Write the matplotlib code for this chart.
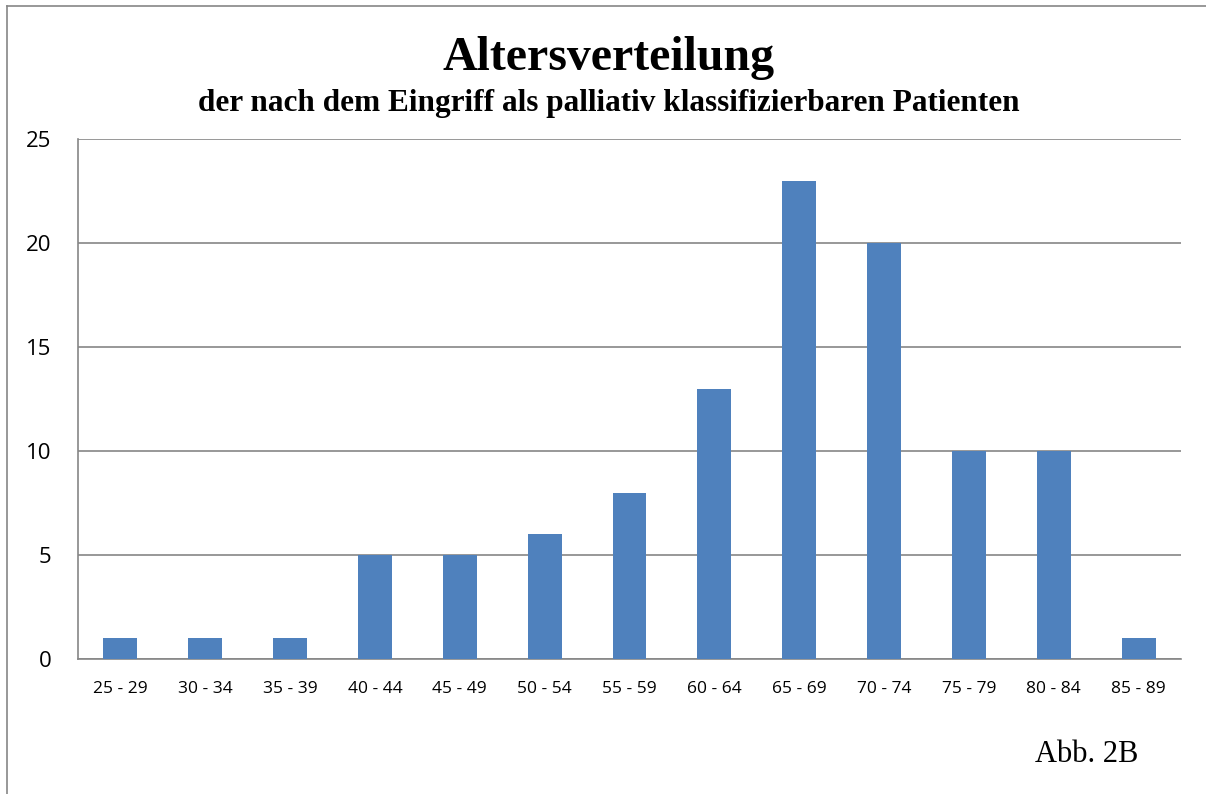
import matplotlib
matplotlib.use("Agg")
import matplotlib.pyplot as plt
from matplotlib.lines import Line2D

categories = ["25 - 29", "30 - 34", "35 - 39", "40 - 44", "45 - 49", "50 - 54", "55 - 59",
              "60 - 64", "65 - 69", "70 - 74", "75 - 79", "80 - 84", "85 - 89"]
counts = [1, 1, 1, 5, 5, 6, 8, 13, 23, 20, 10, 10, 1]
yticks = [0, 5, 10, 15, 20, 25]

title = "Altersverteilung"
subtitle = "der nach dem Eingriff als palliativ klassifizierbaren Patienten"
note = "Abb. 2B"

W, H = 1206, 794
fig = plt.figure(figsize=(W / 100, H / 100), dpi=100)
ax = fig.add_axes([78 / W, 1 - 659 / H, (1181 - 78) / W, (659 - 139) / H])

x = range(len(categories))
ax.bar(x, counts, width=0.4, color="#4F81BD", zorder=3)
ax.set_xlim(-0.5, len(categories) - 0.5)
ax.set_ylim(0, 25)
ax.set_yticks(yticks)
ax.set_yticklabels([str(v) for v in yticks], fontsize=16, family="Open Sans")
ax.set_xticks(list(x))
ax.set_xticklabels(categories, fontsize=12.5, family="Open Sans")
ax.tick_params(axis="both", length=0)
ax.tick_params(axis="y", pad=19)
ax.tick_params(axis="x", pad=16)
ax.yaxis.grid(True, color="#868686", linewidth=1.2, zorder=0)
for s in ["top", "right"]:
    ax.spines[s].set_visible(False)
for s in ["left", "bottom"]:
    ax.spines[s].set_color("#868686")
    ax.spines[s].set_linewidth(1.2)

fig.text(609 / W, 1 - 58 / H, title, ha="center", va="center", fontsize=34.5,
         fontweight="bold", family="Liberation Serif")
fig.text(609 / W, 1 - 103 / H, subtitle, ha="center", va="center", fontsize=22.5,
         fontweight="bold", family="Liberation Serif")
fig.text(1087 / W, 1 - 755 / H, note, ha="center", va="center", fontsize=22,
         family="Liberation Serif")

# outer border (top and left visible)
fig.add_artist(Line2D([7 / W, 1], [1 - 6 / H, 1 - 6 / H], transform=fig.transFigure,
                      color="#868686", linewidth=1.2))
fig.add_artist(Line2D([7 / W, 7 / W], [0, 1 - 6 / H], transform=fig.transFigure,
                      color="#868686", linewidth=1.2))

fig.savefig("out.png", dpi=100)
